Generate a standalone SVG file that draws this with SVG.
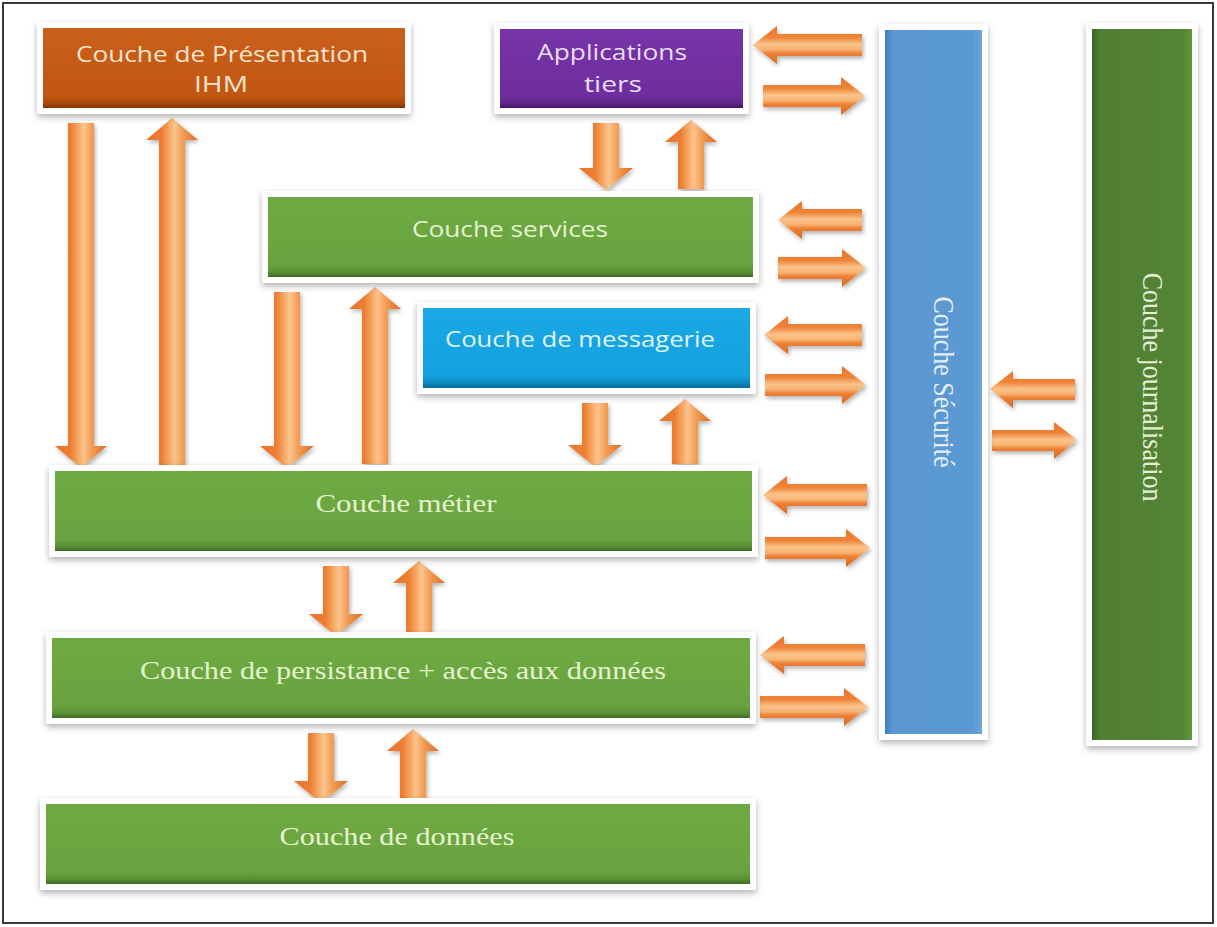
<svg xmlns="http://www.w3.org/2000/svg" width="1217" height="927" viewBox="0 0 1217 927">
  <style>
    .halo { fill: #ffffff; filter: url(#boxShadow); }
    .sans { font-family: "Open Sans", "Liberation Sans", sans-serif; font-size: 22px; }
    .serif { font-family: "Liberation Serif", "Times New Roman", serif; font-size: 26px; }
    .arrV { fill: url(#arrowV); filter: url(#arrowShadow); }
    .arrH { fill: url(#arrowH); filter: url(#arrowShadow); }
  </style>
  <defs>
    <filter id="boxShadow" x="-10%" y="-15%" width="120%" height="140%">
      <feDropShadow dx="0" dy="3" stdDeviation="3" flood-color="#000" flood-opacity="0.3"/>
    </filter>
    <filter id="arrowShadow" x="-30%" y="-30%" width="160%" height="160%">
      <feDropShadow dx="1.5" dy="2.5" stdDeviation="2" flood-color="#000" flood-opacity="0.3"/>
    </filter>
    <linearGradient id="arrowV" x1="0" y1="0" x2="1" y2="0">
      <stop offset="0" stop-color="#E8732A"/>
      <stop offset="0.3" stop-color="#EC7E33"/>
      <stop offset="0.45" stop-color="#F7A865"/>
      <stop offset="0.55" stop-color="#FAC48C"/>
      <stop offset="0.72" stop-color="#F39A52"/>
      <stop offset="1" stop-color="#DF6B22"/>
    </linearGradient>
    <linearGradient id="arrowH" x1="0" y1="0" x2="0" y2="1">
      <stop offset="0" stop-color="#E8732A"/>
      <stop offset="0.3" stop-color="#EE8438"/>
      <stop offset="0.48" stop-color="#FAC48C"/>
      <stop offset="0.62" stop-color="#F7B272"/>
      <stop offset="0.72" stop-color="#EE8136"/>
      <stop offset="1" stop-color="#D9681F"/>
    </linearGradient>
    <linearGradient id="gOrange" x1="0" y1="0" x2="0" y2="1">
      <stop offset="0" stop-color="#C9601A"/>
      <stop offset="0.85" stop-color="#C25612"/>
      <stop offset="0.94" stop-color="#A9480C"/>
      <stop offset="1" stop-color="#7E3507"/>
    </linearGradient>
    <linearGradient id="gPurple" x1="0" y1="0" x2="0" y2="1">
      <stop offset="0" stop-color="#7634A6"/>
      <stop offset="0.85" stop-color="#6E2E9E"/>
      <stop offset="0.94" stop-color="#5E2489"/>
      <stop offset="1" stop-color="#451866"/>
    </linearGradient>
    <linearGradient id="gGreen" x1="0" y1="0" x2="0" y2="1">
      <stop offset="0" stop-color="#6EAA44"/>
      <stop offset="0.85" stop-color="#69A33F"/>
      <stop offset="0.94" stop-color="#5A8F34"/>
      <stop offset="1" stop-color="#3E6A21"/>
    </linearGradient>
    <linearGradient id="gCyan" x1="0" y1="0" x2="0" y2="1">
      <stop offset="0" stop-color="#1AA8E6"/>
      <stop offset="0.85" stop-color="#14A1DE"/>
      <stop offset="0.94" stop-color="#0E88C0"/>
      <stop offset="1" stop-color="#086796"/>
    </linearGradient>
    <linearGradient id="gBlue" x1="0" y1="0" x2="1" y2="0">
      <stop offset="0" stop-color="#3F7FBE"/>
      <stop offset="0.08" stop-color="#5B98D2"/>
      <stop offset="0.9" stop-color="#5B99D3"/>
      <stop offset="1" stop-color="#6AA6DC"/>
    </linearGradient>
    <linearGradient id="gDarkGreen" x1="0" y1="0" x2="1" y2="0">
      <stop offset="0" stop-color="#3C6626"/>
      <stop offset="0.08" stop-color="#527F32"/>
      <stop offset="0.9" stop-color="#548435"/>
      <stop offset="1" stop-color="#62973A"/>
    </linearGradient>
  </defs>

  <!-- page frame -->
  <rect x="0" y="0" width="1217" height="927" fill="#ffffff"/>
  <rect x="3" y="3" width="1210" height="920" fill="none" stroke="#3a3a3a" stroke-width="2"/>

  <!-- connectors: 3D block arrows -->
  <g id="connectors">
    <!-- presentation <-> metier -->
    <path class="arrV" d="M68,123 H94 V446 H107 L81,468 L55,446 H68 Z"/>
    <path class="arrV" d="M172,118 L198,140 H185 V465 H159 V140 H146 Z"/>
    <!-- applications <-> services -->
    <path class="arrV" d="M593,123 H619 V168 H633 L606,190 L579,168 H593 Z"/>
    <path class="arrV" d="M691,120 L717,142 H704 V189 H678 V142 H665 Z"/>
    <!-- services <-> metier -->
    <path class="arrV" d="M274,292 H300 V446 H314 L287,468 L260,446 H274 Z"/>
    <path class="arrV" d="M375,287 L401,309 H388 V464 H362 V309 H349 Z"/>
    <!-- messagerie <-> metier -->
    <path class="arrV" d="M582,403 H608 V445 H622 L595,467 L568,445 H582 Z"/>
    <path class="arrV" d="M685,399 L711,421 H698 V464 H672 V421 H659 Z"/>
    <!-- metier <-> persistance -->
    <path class="arrV" d="M323,566 H349 V614 H363 L336,636 L309,614 H323 Z"/>
    <path class="arrV" d="M419,561 L445,583 H432 V632 H406 V583 H393 Z"/>
    <!-- persistance <-> donnees -->
    <path class="arrV" d="M308,733 H334 V781 H348 L321,803 L294,781 H308 Z"/>
    <path class="arrV" d="M413,729 L439,751 H426 V798 H400 V751 H387 Z"/>

    <!-- layers <-> securite -->
    <path class="arrH" d="M753,45 L777,26 V34 H862 V56 H777 V64 Z"/>
    <path class="arrH" d="M865,96 L841,77 V85 H763 V107 H841 V115 Z"/>
    <path class="arrH" d="M778,220 L802,201 V209 H862 V231 H802 V239 Z"/>
    <path class="arrH" d="M866,268 L842,249 V257 H778 V279 H842 V287 Z"/>
    <path class="arrH" d="M764,335 L788,316 V324 H862 V346 H788 V354 Z"/>
    <path class="arrH" d="M866,385 L842,366 V374 H765 V396 H842 V404 Z"/>
    <path class="arrH" d="M763,495 L787,476 V484 H867 V506 H787 V514 Z"/>
    <path class="arrH" d="M870,548 L846,529 V537 H765 V559 H846 V567 Z"/>
    <path class="arrH" d="M760,655 L784,636 V644 H865 V666 H784 V674 Z"/>
    <path class="arrH" d="M868,707 L844,688 V696 H760 V718 H844 V726 Z"/>
    <!-- securite <-> journalisation -->
    <path class="arrH" d="M990,389 L1013,371 V379 H1075 V400 H1013 V408 Z"/>
    <path class="arrH" d="M1077,440 L1054,422 V430 H992 V451 H1054 V459 Z"/>
  </g>

  <g id="presentation">
    <rect class="halo" x="37" y="22" width="374" height="92"/>
    <rect x="43" y="28" width="362" height="80" fill="url(#gOrange)"/>
    <text class="sans" fill="#FCE4CF" x="222" y="62" text-anchor="middle" textLength="292" lengthAdjust="spacingAndGlyphs">Couche de Présentation</text>
    <text class="sans" fill="#FCE4CF" x="221" y="92" text-anchor="middle" textLength="54" lengthAdjust="spacingAndGlyphs">IHM</text>
  </g>

  <g id="applications">
    <rect class="halo" x="494" y="23" width="255" height="91"/>
    <rect x="500" y="29" width="243" height="79" fill="url(#gPurple)"/>
    <text class="sans" fill="#E9DDF5" x="612" y="60" text-anchor="middle" textLength="150" lengthAdjust="spacingAndGlyphs">Applications</text>
    <text class="sans" fill="#E9DDF5" x="613" y="92" text-anchor="middle" textLength="58" lengthAdjust="spacingAndGlyphs">tiers</text>
  </g>

  <g id="services">
    <rect class="halo" x="262" y="191" width="497" height="92"/>
    <rect x="268" y="197" width="485" height="80" fill="url(#gGreen)"/>
    <text class="sans" fill="#E6F3CF" x="510" y="237" text-anchor="middle" textLength="196" lengthAdjust="spacingAndGlyphs">Couche services</text>
  </g>

  <g id="messagerie">
    <rect class="halo" x="417" y="302" width="339" height="92"/>
    <rect x="423" y="308" width="327" height="80" fill="url(#gCyan)"/>
    <text class="sans" fill="#E0F2FB" x="580" y="347" text-anchor="middle" textLength="270" lengthAdjust="spacingAndGlyphs">Couche de messagerie</text>
  </g>

  <g id="metier">
    <rect class="halo" x="49" y="465" width="709" height="92"/>
    <rect x="55" y="471" width="697" height="80" fill="url(#gGreen)"/>
    <text class="serif" fill="#E6F3CF" x="406" y="512" text-anchor="middle" textLength="181" lengthAdjust="spacingAndGlyphs">Couche métier</text>
  </g>

  <g id="persistance">
    <rect class="halo" x="46" y="632" width="710" height="92"/>
    <rect x="52" y="638" width="698" height="80" fill="url(#gGreen)"/>
    <text class="serif" fill="#E6F3CF" x="403" y="679" text-anchor="middle" textLength="526" lengthAdjust="spacingAndGlyphs">Couche de persistance + accès aux données</text>
  </g>

  <g id="donnees">
    <rect class="halo" x="40" y="798" width="716" height="92"/>
    <rect x="46" y="804" width="704" height="80" fill="url(#gGreen)"/>
    <text class="serif" fill="#E6F3CF" x="397" y="845" text-anchor="middle" textLength="235" lengthAdjust="spacingAndGlyphs">Couche de données</text>
  </g>

  <g id="securite">
    <rect class="halo" x="879" y="24" width="109" height="716"/>
    <rect x="885" y="30" width="97" height="704" fill="url(#gBlue)"/>
    <text class="serif" fill="#E4EEF8" font-size="25" text-anchor="middle" transform="translate(934,382) scale(1.15,1) rotate(90)">Couche Sécurité</text>
  </g>

  <g id="journalisation">
    <rect class="halo" x="1086" y="23" width="112" height="723"/>
    <rect x="1092" y="29" width="100" height="711" fill="url(#gDarkGreen)"/>
    <text class="serif" fill="#E3F0D2" font-size="25" text-anchor="middle" transform="translate(1143,387) scale(1.15,1) rotate(90)">Couche journalisation</text>
  </g>
</svg>
